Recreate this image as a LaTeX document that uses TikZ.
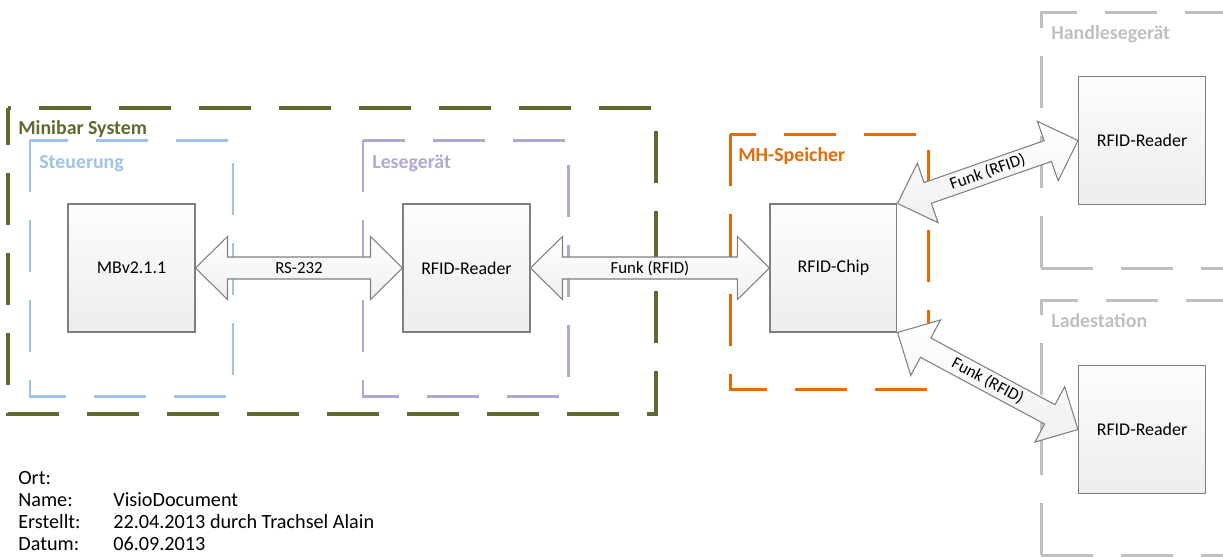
\documentclass[tikz,border=0pt]{standalone}
\usepackage{fontspec}
\setmainfont{Carlito}
\usetikzlibrary{positioning,calc}
\definecolor{minibar}{HTML}{5F6A30}
\definecolor{steuer}{HTML}{9DC3E6}
\definecolor{lese}{HTML}{B3A7D3}
\definecolor{mhorange}{HTML}{E36C0A}
\definecolor{extgray}{HTML}{BFBFBF}
\definecolor{boxline}{HTML}{7F7F7F}
\tikzset{
  box/.style={draw=boxline, line width=0.6pt, top color=gray!2, bottom color=gray!14, minimum width=2.54cm, minimum height=2.56cm, inner sep=0pt, font=\fontsize{10.2}{12}\selectfont},
  groupframe/.style={line width=1.7pt, dash pattern=on 1.04cm off 0.56cm},
  grouplabel/.style={anchor=base west, inner sep=0pt, font=\bfseries\fontsize{11.3}{13}\selectfont},
  bigarrow/.style={draw=boxline, line width=0.6pt, top color=white, bottom color=gray!12},
  arrowlabel/.style={transform shape, inner sep=0pt, font=\fontsize{9.6}{11}\selectfont}
}
% double block arrow between two anchors, label inside the shaft
\newcommand{\doublearrow}[4]{%
  \path[bigarrow] let \p1=(#1), \p2=(#2),
      \n1={atan2(\y2-\y1,\x2-\x1)}, \n2={veclen(\x2-\x1,\y2-\y1)} in
    [shift={(\p1)}, rotate=\n1]
    (0,0) -- (0.64cm,0.63cm) -- (0.64cm,0.22cm) -- ({\n2*1pt-0.64cm},0.22cm)
    -- ({\n2*1pt-0.64cm},0.63cm) -- ({\n2*1pt},0) -- ({\n2*1pt-0.64cm},-0.63cm)
    -- ({\n2*1pt-0.64cm},-0.22cm) -- (0.64cm,-0.22cm) -- (0.64cm,-0.63cm) -- cycle
    ({\n2*0.5pt},0) node[arrowlabel] (#3) {#4};
}
\begin{document}
\begin{tikzpicture}[x=0.02cm, y=-0.02cm]
  \useasboundingbox (0,0) rectangle (1223,556);
  % Gruppen
  \draw[groupframe, draw=minibar, line width=1.8pt, dash phase=0.3cm] (8,108) rectangle (656,414);
  \node[grouplabel, text=minibar] (lminibar) at (18,134) {Minibar System};
  \draw[groupframe, draw=steuer] (30,140) rectangle (233,396);
  \node[grouplabel, text=steuer] (lsteuer) at (39,168) {Steuerung};
  \draw[groupframe, draw=lese] (363,140) rectangle (568,396);
  \node[grouplabel, text=lese] (llese) at (372,168) {Lesegerät};
  \draw[groupframe, draw=mhorange] (730,134) rectangle (928,389);
  \node[grouplabel, text=mhorange] (lmh) at (738,161) {MH-Speicher};
  \draw[groupframe, draw=extgray] (1041,268) -- (1041,12) -- (1250,12);
  \draw[groupframe, draw=extgray] (1041,268) -- (1250,268);
  \node[grouplabel, text=extgray] (lhand) at (1051,39) {Handlesegerät};
  \draw[groupframe, draw=extgray] (1041,555) -- (1041,300) -- (1250,300);
  \draw[groupframe, draw=extgray] (1041,555) -- (1250,555);
  \node[grouplabel, text=extgray] (llade) at (1051,327) {Ladestation};
  % Komponenten
  \node[box] (mbv) at (131.5,268) {MBv2.1.1};
  \node[box, right=4.14cm of mbv] (reader) {RFID-Reader};
  \node[box, right=4.78cm of reader] (chip) {RFID-Chip};
  \node[box] (handreader) at (1142,140.5) {RFID-Reader};
  \node[box, below=3.2cm of handreader] (ladereader) {RFID-Reader};
  % Verbindungen
  \doublearrow{mbv.east}{reader.west}{rs}{RS-232}
  \doublearrow{reader.east}{chip.west}{funk}{Funk (RFID)}
  \doublearrow{chip.north east}{handreader.west}{funkhand}{Funk (RFID)}
  \doublearrow{chip.south east}{ladereader.west}{funklade}{Funk (RFID)}
  % Info
  \node[anchor=base west, inner sep=0pt, font=\fontsize{11.5}{12.7}\selectfont] (info) at (18,484)
    {\begin{tabular}[t]{@{}p{1.9cm}@{}l@{}}
      Ort: & \\
      Name: & VisioDocument\\
      Erstellt: & 22.04.2013 durch Trachsel Alain\\
      Datum: & 06.09.2013
    \end{tabular}};
\end{tikzpicture}
\end{document}
